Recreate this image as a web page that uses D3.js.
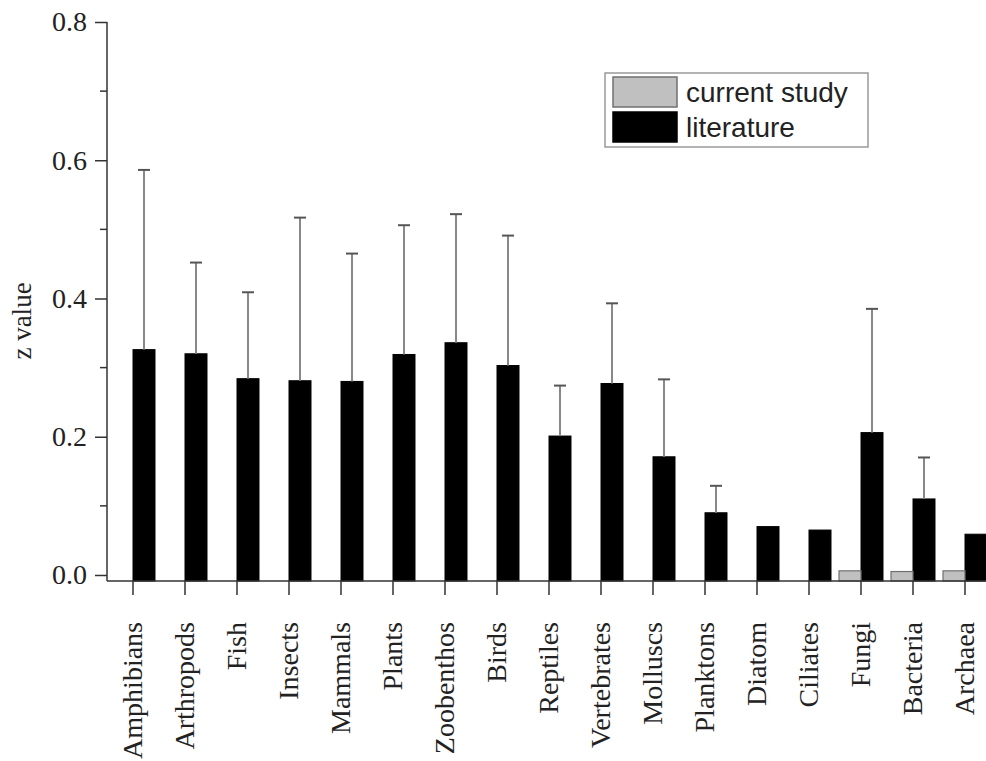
<!DOCTYPE html>
<html>
<head>
<meta charset="utf-8">
<script src="https://cdn.jsdelivr.net/npm/d3@7/dist/d3.min.js"></script>
<style>
  html, body { margin: 0; padding: 0; background: #fff; }
  svg { display: block; }
</style>
</head>
<body>
<div id="chart-holder"></div>
<script>
// categories along the x axis
var categories = ["Amphibians", "Arthropods", "Fish", "Insects", "Mammals", "Plants",
  "Zoobenthos", "Birds", "Reptiles", "Vertebrates", "Molluscs", "Planktons",
  "Diatom", "Ciliates", "Fungi", "Bacteria", "Archaea"];

// literature z values and their (upper) error
var literature = [0.326, 0.320, 0.284, 0.281, 0.280, 0.319, 0.336, 0.303, 0.201,
  0.277, 0.171, 0.090, 0.070, 0.065, 0.206, 0.110, 0.059];
var literatureErr = [0.260, 0.132, 0.125, 0.236, 0.185, 0.187, 0.186, 0.188, 0.073,
  0.116, 0.112, 0.039, 0, 0, 0.179, 0.060, 0];

// current study (only microbes)
var currentStudy = [null, null, null, null, null, null, null, null, null,
  null, null, null, null, null, 0.006, 0.005, 0.006];

var yTicks = [0.0, 0.2, 0.4, 0.6, 0.8];
var yMinorTicks = [0.1, 0.3, 0.5, 0.7];
var legendLabels = ["current study", "literature"];

var W = 986, H = 761;
var margin = { left: 107, bottom: 581, top: 22 };

var svg = d3.select("#chart-holder").append("svg")
  .attr("width", W)
  .attr("height", H);

// set the ranges
var x = d3.scaleBand().domain(categories).range([margin.left, margin.left + 52 * categories.length]);
var y = d3.scaleLinear().domain([-0.0087, 0.8]).range([margin.bottom, margin.top]);
var bw = x.bandwidth() * 0.423;
var cx = function (d) { return x(d) + x.bandwidth() / 2; };
var base = y(y.domain()[0]);

var serif = "'Liberation Serif', 'Times New Roman', serif";

// bars - literature
svg.selectAll(".lit")
  .data(categories)
  .enter()
  .append("rect")
  .attr("x", function (d) { return cx(d); })
  .attr("y", function (d, i) { return y(literature[i]); })
  .attr("width", bw)
  .attr("height", function (d, i) { return base - y(literature[i]); })
  .attr("fill", "#000")
  .attr("stroke", "#000")
  .attr("stroke-width", 1);

// bars - current study
var cur = categories.map(function (c, i) { return { cat: c, v: currentStudy[i] }; })
  .filter(function (d) { return d.v != null; });
svg.selectAll(".cur")
  .data(cur)
  .enter()
  .append("rect")
  .attr("x", function (d) { return cx(d.cat) - bw; })
  .attr("y", function (d) { return y(d.v); })
  .attr("width", bw)
  .attr("height", function (d) { return base - y(d.v); })
  .attr("fill", "#c0c0c0")
  .attr("stroke", "#707070")
  .attr("stroke-width", 1.2);

// error bars (upper only)
var errs = categories.map(function (c, i) { return { cat: c, v: literature[i], e: literatureErr[i] }; })
  .filter(function (d) { return d.e > 0; });
var eb = svg.selectAll(".err").data(errs).enter().append("g");
eb.append("line")
  .attr("x1", function (d) { return cx(d.cat) + bw / 2; })
  .attr("x2", function (d) { return cx(d.cat) + bw / 2; })
  .attr("y1", function (d) { return y(d.v); })
  .attr("y2", function (d) { return y(d.v + d.e); })
  .attr("stroke", "#888")
  .attr("stroke-width", 2);
eb.append("line")
  .attr("x1", function (d) { return cx(d.cat) + bw / 2 - 6; })
  .attr("x2", function (d) { return cx(d.cat) + bw / 2 + 6; })
  .attr("y1", function (d) { return y(d.v + d.e); })
  .attr("y2", function (d) { return y(d.v + d.e); })
  .attr("stroke", "#555")
  .attr("stroke-width", 2);

// y axis
var yAxis = svg.append("g")
  .attr("transform", "translate(" + margin.left + ",0)")
  .call(d3.axisLeft(y).tickValues(yTicks).tickSize(12).tickPadding(8)
    .tickFormat(d3.format(".1f")).tickSizeOuter(0));
yAxis.select(".domain").attr("d", "M0," + margin.bottom + "V" + y(0.8));
yAxis.selectAll("line").attr("stroke", "#333").attr("stroke-width", 1.5);
yAxis.selectAll("text").attr("font-family", serif).attr("font-size", 28).attr("fill", "#222");
yAxis.select(".domain").attr("stroke", "#333").attr("stroke-width", 1.5);
svg.append("g")
  .selectAll("line")
  .data(yMinorTicks)
  .enter()
  .append("line")
  .attr("x1", margin.left - 7).attr("x2", margin.left)
  .attr("y1", function (d) { return y(d); }).attr("y2", function (d) { return y(d); })
  .attr("stroke", "#333").attr("stroke-width", 1.5);

// x axis
var xAxis = svg.append("g")
  .attr("transform", "translate(0," + margin.bottom + ")")
  .call(d3.axisBottom(x).tickSize(14).tickSizeOuter(0).tickFormat(""));
xAxis.selectAll(".tick").attr("transform", function (d) { return "translate(" + cx(d) + ",0)"; });
xAxis.select(".domain").attr("d", "M" + margin.left + ",0H" + W);
xAxis.selectAll("line").attr("stroke", "#333").attr("stroke-width", 1.5);
xAxis.select(".domain").attr("stroke", "#333").attr("stroke-width", 1.5);

// category labels, rotated
svg.append("g")
  .selectAll("text")
  .data(categories)
  .enter()
  .append("text")
  .attr("transform", function (d) { return "translate(" + (cx(d) + 9) + ",622) rotate(-90)"; })
  .attr("text-anchor", "end")
  .attr("font-family", serif)
  .attr("font-size", 28)
  .attr("fill", "#222")
  .text(function (d) { return d; });

// y axis title
svg.append("text")
  .attr("transform", "translate(31,321) rotate(-90)")
  .attr("text-anchor", "middle")
  .attr("font-family", serif)
  .attr("font-size", 27)
  .attr("fill", "#222")
  .text("z value");

// legend
var legend = svg.append("g");
legend.append("rect")
  .attr("x", 605).attr("y", 73).attr("width", 263).attr("height", 74)
  .attr("fill", "#fff").attr("stroke", "#999").attr("stroke-width", 1.5);
var swatch = ["#c0c0c0", "#000"];
var swatchStroke = ["#707070", "#000"];
legend.selectAll(".sw")
  .data(legendLabels)
  .enter()
  .append("rect")
  .attr("x", 613)
  .attr("y", function (d, i) { return 77 + i * 35; })
  .attr("width", 64).attr("height", 30)
  .attr("fill", function (d, i) { return swatch[i]; })
  .attr("stroke", function (d, i) { return swatchStroke[i]; })
  .attr("stroke-width", 1.5);
legend.selectAll(".lb")
  .data(legendLabels)
  .enter()
  .append("text")
  .attr("x", 686)
  .attr("y", function (d, i) { return 102 + i * 35; })
  .attr("font-family", "'Liberation Sans', Arial, sans-serif")
  .attr("font-size", 28)
  .attr("fill", "#222")
  .text(function (d) { return d; });
</script>
</body>
</html>
